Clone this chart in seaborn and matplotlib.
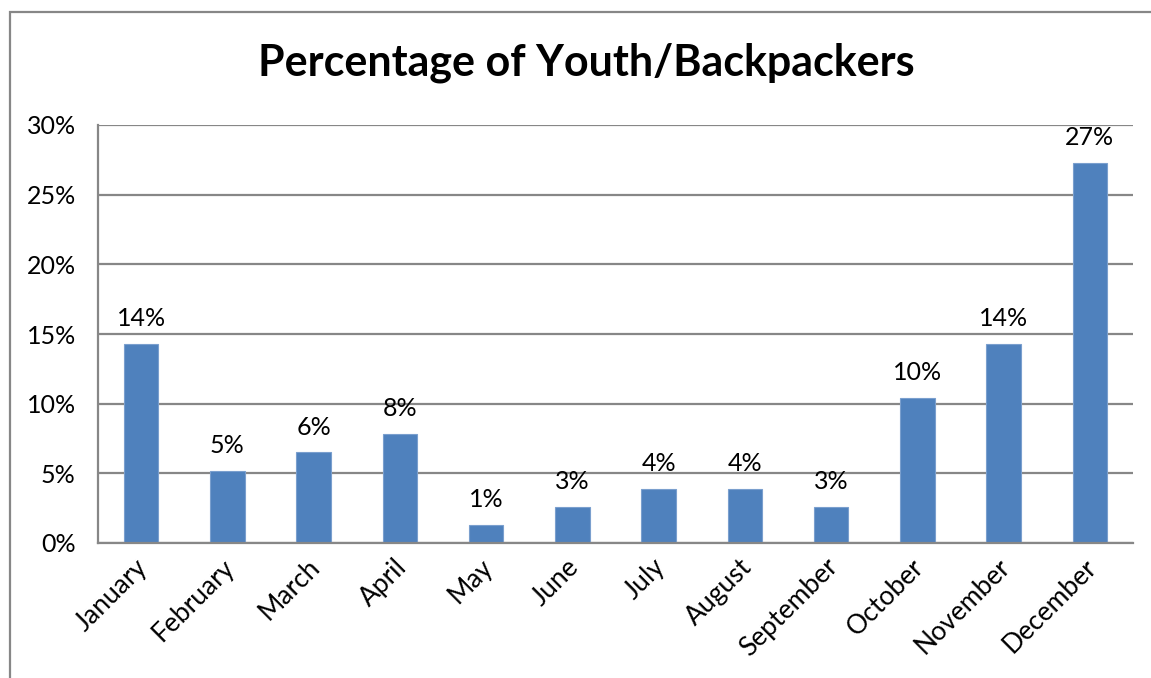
import matplotlib
matplotlib.use("Agg")
import matplotlib.pyplot as plt
from matplotlib.patches import Rectangle
from matplotlib.ticker import FixedLocator, FuncFormatter
from matplotlib.transforms import ScaledTranslation
import seaborn as sns
import pandas as pd

months = ["January", "February", "March", "April", "May", "June",
          "July", "August", "September", "October", "November", "December"]
share_pct = [14.3, 5.2, 6.5, 7.8, 1.3, 2.6, 3.9, 3.9, 2.6, 10.4, 14.3, 27.3]
y_ticks = [0, 5, 10, 15, 20, 25, 30]
title = "Percentage of Youth/Backpackers"

sns.set_style("white")
plt.rcParams["font.family"] = ["Lato", "DejaVu Sans"]
plt.rcParams["text.color"] = "black"
plt.rcParams["xtick.labelcolor"] = "black"
plt.rcParams["ytick.labelcolor"] = "black"

W, H = 1151, 678
fig = plt.figure(figsize=(W / 100, H / 100), dpi=100)
ax = fig.add_axes([98 / W, 1 - 543 / H, (1133 - 98) / W, (543 - 125) / H])

df = pd.DataFrame({"month": months, "share": share_pct})
sns.barplot(data=df, x="month", y="share", ax=ax, color="#4F81BD",
            saturation=1, width=0.4, edgecolor="#7A9FCE", linewidth=0.8)

grid_c = "#878787"
ax.set_ylim(0, 30)
ax.set_xlim(-0.5, len(months) - 0.5)
ax.yaxis.set_major_locator(FixedLocator(y_ticks))
ax.yaxis.set_major_formatter(FuncFormatter(lambda v, p: f"{v:.0f}%"))
ax.grid(axis="y", color=grid_c, linewidth=1.6)
ax.set_axisbelow(True)
for s in ["top", "right"]:
    ax.spines[s].set_visible(False)
for s in ["left", "bottom"]:
    ax.spines[s].set_color(grid_c)
    ax.spines[s].set_linewidth(1.6)

ax.tick_params(axis="y", length=8, width=1.6, color=grid_c, labelsize=18, pad=8)
ax.set_xlabel("")
ax.set_ylabel("")

# category boundary ticks on the x axis
ax.set_xticks([i - 0.5 for i in range(len(months) + 1)], minor=True)
ax.tick_params(axis="x", which="minor", length=7, width=1.6, color=grid_c)
ax.tick_params(axis="x", which="major", length=0, labelsize=19, pad=8)
ax.set_xticks(range(len(months)))
ax.set_xticklabels(months, rotation=45, ha="right", va="top",
                   rotation_mode="anchor")
shift = ScaledTranslation(-6 / 100, 0, fig.dpi_scale_trans)
for lbl in ax.get_xticklabels():
    lbl.set_transform(lbl.get_transform() + shift)

for i, v in enumerate(share_pct):
    ax.annotate(f"{v:.0f}%", (i, v), xytext=(0, 10), textcoords="offset points",
                ha="center", va="bottom", fontsize=18, color="black")

fig.text(586 / W, 1 - 63 / H, title, ha="center", va="center",
         fontsize=31, fontweight="bold", color="black")

# chart frame
fig.patches.append(Rectangle((10 / W, -0.2), 1.5, 1.2 - 12 / H,
                             transform=fig.transFigure, fill=False,
                             edgecolor=grid_c, linewidth=1.6, clip_on=False))

fig.savefig("out.png", dpi=100)
